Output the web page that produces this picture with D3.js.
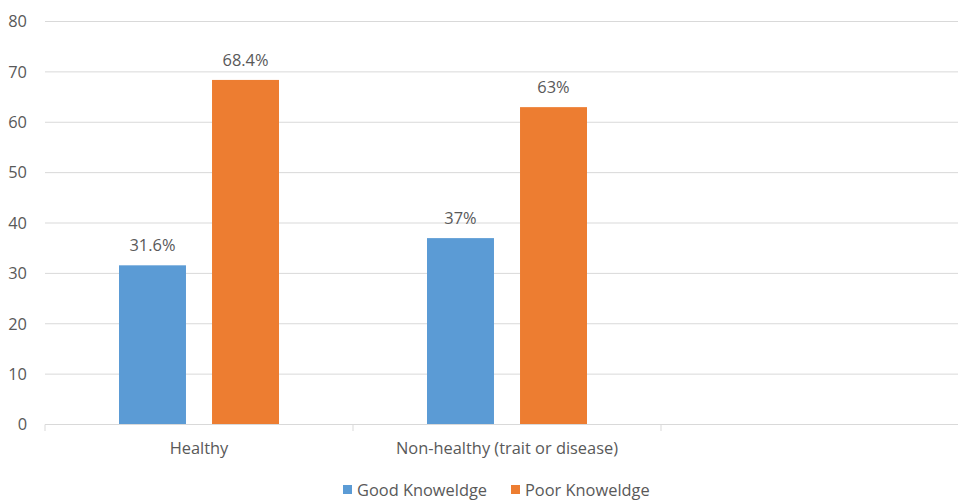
<!DOCTYPE html>
<html><head><meta charset="utf-8">
<script src="https://cdn.jsdelivr.net/npm/d3@7"></script>
<style>body{margin:0;background:#fff}svg{display:block}text{font-family:"Open Sans",sans-serif;fill:#595959}</style>
</head><body><svg id="c" width="958" height="500"></svg>
<script>
const categories = ["Healthy", "Non-healthy (trait or disease)", ""];
const seriesNames = ["Good Knoweldge", "Poor Knoweldge"];
const goodValues = [31.6, 37, null];
const poorValues = [68.4, 63, null];
const valueLabels = [["31.6%", "68.4%", ""], ["37%", "63%", ""]];
const yTicks = [0, 10, 20, 30, 40, 50, 60, 70, 80];
const colors = ["#5b9bd5", "#ed7d31"];
const FS = "16.4px";

const svg = d3.select("#c");
const x0 = d3.scaleBand().domain(categories).range([45, 969]);
const x1 = d3.scaleBand().domain(seriesNames).range([74, 234]).paddingInner(0.28);
const y = d3.scaleLinear().domain([0, 80]).range([424.5, 21.5]);

// gridlines
svg.append("g").selectAll("line").data(yTicks.filter(d => d > 0)).join("line")
  .attr("x1", 45).attr("x2", 958).attr("y1", d => y(d)).attr("y2", d => y(d))
  .attr("stroke", "#d9d9d9").attr("stroke-width", 1);

// y axis labels
const yAxis = d3.axisLeft(y).tickValues(yTicks).tickSize(0).tickPadding(18);
const gy = svg.append("g").attr("transform", "translate(45,0)").call(yAxis);
gy.select(".domain").remove();
gy.selectAll("text").style("font-size", FS).attr("fill", "#595959").attr("font-family", '"Open Sans",sans-serif');

// bars
const series = [goodValues, poorValues];
series.forEach((vals, si) => {
  svg.append("g").selectAll("rect").data(categories.map((c, i) => ({c, v: vals[i], i}))
    .filter(d => d.v != null)).join("rect")
    .attr("x", d => x0(d.c) + x1(seriesNames[si]))
    .attr("width", x1.bandwidth())
    .attr("y", d => y(d.v))
    .attr("height", d => y(0) - y(d.v))
    .attr("fill", colors[si]);
  svg.append("g").selectAll("text").data(categories.map((c, i) => ({c, v: vals[i], i}))
    .filter(d => d.v != null)).join("text")
    .attr("x", d => x0(d.c) + x1(seriesNames[si]) + x1.bandwidth() / 2)
    .attr("y", d => y(d.v) - 14)
    .attr("text-anchor", "middle")
    .style("font-size", FS)
    .text(d => valueLabels[d.i][si]);
});

// x axis
const xAxis = d3.axisBottom(x0).tickSize(0).tickPadding(18);
const gx = svg.append("g").attr("transform", "translate(0,424.5)").call(xAxis);
gx.select(".domain").attr("stroke", "#d9d9d9").attr("d", "M45,0H969");
gx.selectAll("text").style("font-size", FS).attr("fill", "#595959").attr("font-family", '"Open Sans",sans-serif');
// category separators
svg.append("g").selectAll("line").data(categories.map(c => x0(c)).concat([969])).join("line")
  .attr("x1", d => d).attr("x2", d => d).attr("y1", 424.5).attr("y2", 431)
  .attr("stroke", "#d9d9d9");

// legend
const legX = [343, 511];
const lg = svg.append("g");
seriesNames.forEach((n, i) => {
  lg.append("rect").attr("x", legX[i]).attr("y", 485).attr("width", 9).attr("height", 9).attr("fill", colors[i]);
  lg.append("text").attr("x", legX[i] + 14).attr("y", 490).attr("dy", "0.35em").style("font-size", FS).text(n);
});
</script></body></html>
